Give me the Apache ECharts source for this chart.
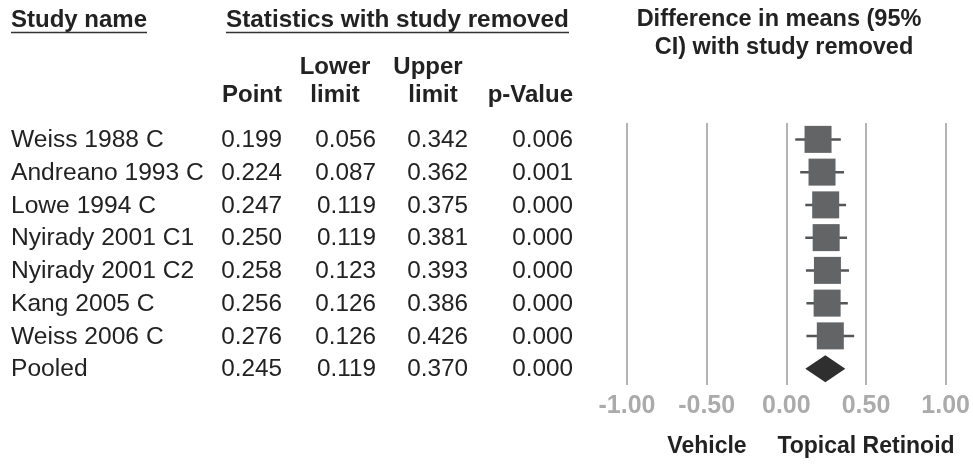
<!DOCTYPE html>
<html>
<head>
<meta charset="utf-8">
<script src="https://cdn.jsdelivr.net/npm/echarts@6/dist/echarts.min.js"></script>
<style>
  html, body { margin: 0; padding: 0; background: #fff; }
  #chart { width: 973px; height: 464px; }
</style>
</head>
<body>
<div id="chart"></div>
<script>
// data
const studies = ['Weiss 1988 C', 'Andreano 1993 C', 'Lowe 1994 C', 'Nyirady 2001 C1',
  'Nyirady 2001 C2', 'Kang 2005 C', 'Weiss 2006 C', 'Pooled'];
const points = [0.199, 0.224, 0.247, 0.250, 0.258, 0.256, 0.276, 0.245];
const lowers = [0.056, 0.087, 0.119, 0.119, 0.123, 0.126, 0.126, 0.119];
const uppers = [0.342, 0.362, 0.375, 0.381, 0.393, 0.386, 0.426, 0.370];
const pValues = ['0.006', '0.001', '0.000', '0.000', '0.000', '0.000', '0.000', '0.000'];

const FONT = '"Liberation Sans", Arial, sans-serif';

const chart = echarts.init(document.getElementById('chart'), null, { renderer: 'canvas' });

// row index 1..8, last one is the pooled diamond
const studyRows = [];
for (let i = 0; i < studies.length - 1; i++) {
  studyRows.push([i + 1, points[i], lowers[i], uppers[i]]);
}
const last = studies.length - 1;
const pooledRow = [[last + 1, points[last], lowers[last], uppers[last]]];
const tableRows = studies.map((s, i) => [i + 1, s, points[i].toFixed(3), lowers[i].toFixed(3), uppers[i].toFixed(3), pValues[i]]);

function txt(x, y, text, align, bold, size, color) {
  return {
    type: 'text',
    x: x, y: y,
    style: {
      text: text, fill: color || '#222', font: (bold ? 'bold ' : '') + size + 'px ' + FONT,
      align: align, verticalAlign: 'middle'
    }
  };
}

const option = {
  backgroundColor: '#fff',
  animation: false,
  grid: { left: 627, right: 25, top: 123, bottom: 79 },
  xAxis: {
    type: 'value', min: -1, max: 1, interval: 0.5,
    axisLine: { show: false },
    axisTick: { show: false },
    splitLine: { show: true, lineStyle: { color: '#b4b4b4', width: 2 } },
    axisLabel: {
      formatter: v => v.toFixed(2),
      color: '#ababab', fontWeight: 'bold', fontSize: 25, fontFamily: FONT, margin: 9
    }
  },
  yAxis: {
    type: 'value', inverse: true, min: 0.5, max: 8.5,
    axisLine: { show: false }, axisTick: { show: false },
    axisLabel: { show: false }, splitLine: { show: false }
  },
  series: [
    {
      type: 'custom',
      name: 'studies',
      data: studyRows,
      encode: { x: 1, y: 0 },
      renderItem: (params, api) => {
        const c = api.coord([api.value(1), api.value(0)]);
        const lo = api.coord([api.value(2), api.value(0)]);
        const hi = api.coord([api.value(3), api.value(0)]);
        const h = 27;
        return {
          type: 'group',
          children: [
            { type: 'line', shape: { x1: lo[0], y1: lo[1], x2: hi[0], y2: hi[1] },
              style: { stroke: '#545557', lineWidth: 2.5 } },
            { type: 'rect', shape: { x: c[0] - h / 2, y: c[1] - h / 2, width: h, height: h },
              style: { fill: '#636466' } }
          ]
        };
      }
    },
    {
      type: 'custom',
      name: 'pooled',
      data: pooledRow,
      encode: { x: 1, y: 0 },
      renderItem: (params, api) => {
        const c = api.coord([api.value(1), api.value(0)]);
        const lo = api.coord([api.value(2), api.value(0)]);
        const hi = api.coord([api.value(3), api.value(0)]);
        const h = 13.5;
        return {
          type: 'polygon',
          shape: { points: [[lo[0], c[1]], [c[0], c[1] - h], [hi[0], c[1]], [c[0], c[1] + h]] },
          style: { fill: '#2f2f2f' }
        };
      }
    },
    {
      type: 'custom',
      name: 'table',
      data: tableRows,
      encode: { y: 0 },
      clip: false,
      renderItem: (params, api) => {
        const y = api.coord([0, api.value(0)])[1] + 1;
        const r = tableRows[params.dataIndex];
        return {
          type: 'group',
          children: [
            txt(11, y, r[1], 'left', false, 24.6),
            txt(282, y, r[2], 'right', false, 24.3),
            txt(376, y, r[3], 'right', false, 24.3),
            txt(468, y, r[4], 'right', false, 24.3),
            txt(573, y, r[5], 'right', false, 24.3)
          ]
        };
      }
    }
  ],
  graphic: [
    txt(11, 20, 'Study name', 'left', true, 24),
    { type: 'line', shape: { x1: 11, y1: 32.5, x2: 147, y2: 32.5 }, style: { stroke: '#333', lineWidth: 1.5 } },
    txt(226, 20, 'Statistics with study removed', 'left', true, 24.3),
    { type: 'line', shape: { x1: 226, y1: 32.5, x2: 569, y2: 32.5 }, style: { stroke: '#333', lineWidth: 1.5 } },
    txt(335, 67, 'Lower', 'center', true, 24),
    txt(428, 67, 'Upper', 'center', true, 24),
    txt(282, 95, 'Point', 'right', true, 24),
    txt(335, 95, 'limit', 'center', true, 24),
    txt(433, 95, 'limit', 'center', true, 24),
    txt(573, 95, 'p-Value', 'right', true, 24),
    txt(779, 20, 'Difference in means (95%', 'center', true, 23.5),
    txt(784, 48, 'CI) with study removed', 'center', true, 23.5),
    txt(707, 447, 'Vehicle', 'center', true, 23),
    txt(866, 447, 'Topical Retinoid', 'center', true, 23)
  ]
};

chart.setOption(option);
</script>
</body>
</html>
